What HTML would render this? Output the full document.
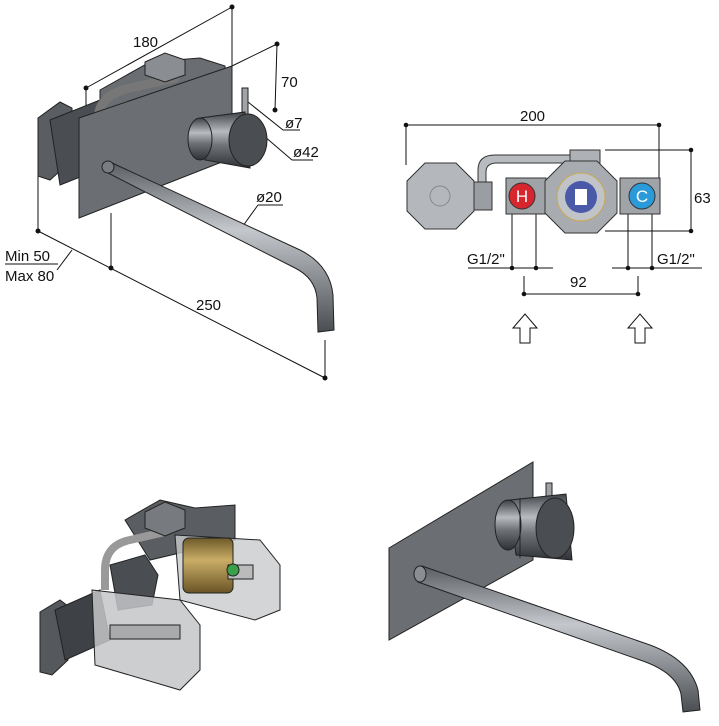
<!DOCTYPE html>
<html><head><meta charset="utf-8"><style>
html,body{margin:0;padding:0;background:#fff;}
svg{display:block;font-family:"Liberation Sans",Arial,sans-serif;}
</style></head><body>
<svg width="719" height="726" viewBox="0 0 719 726" xmlns="http://www.w3.org/2000/svg">
<defs>
<linearGradient id="cyl" x1="0" y1="0" x2="0" y2="1">
<stop offset="0" stop-color="#3e4246"/><stop offset="0.35" stop-color="#b8bcc0"/><stop offset="0.6" stop-color="#6e7276"/><stop offset="1" stop-color="#2e3236"/></linearGradient>
<linearGradient id="pipe" x1="0" y1="0" x2="0" y2="1">
<stop offset="0" stop-color="#5a5e62"/><stop offset="0.4" stop-color="#c4c8cc"/><stop offset="1" stop-color="#4a4e52"/></linearGradient>
<linearGradient id="brass" x1="0" y1="0" x2="0" y2="1">
<stop offset="0" stop-color="#6d5a2a"/><stop offset="0.4" stop-color="#c9ad66"/><stop offset="1" stop-color="#6a5426"/></linearGradient>
</defs>
<g stroke="#111" fill="none" stroke-width="1">
<!-- top-left dims -->
<line x1="86" y1="88" x2="232" y2="7"/><line x1="232" y1="7" x2="232" y2="66"/>
<line x1="86" y1="88" x2="86" y2="120"/>
<line x1="232" y1="66" x2="277" y2="44"/><line x1="277" y1="44" x2="275" y2="110"/>
<line x1="38" y1="176" x2="38" y2="230"/><line x1="38" y1="231" x2="325" y2="378"/>
<line x1="111" y1="213" x2="111" y2="268"/><line x1="325" y1="340" x2="325" y2="378"/>
<line x1="72" y1="250" x2="57" y2="270"/><line x1="5" y1="264" x2="58" y2="264"/>
<line x1="248" y1="102" x2="283" y2="130"/><line x1="283" y1="130" x2="300" y2="130"/>
<line x1="264" y1="136" x2="292" y2="160"/><line x1="292" y1="160" x2="313" y2="160"/>
<line x1="240" y1="230" x2="258" y2="205"/><line x1="258" y1="205" x2="283" y2="205"/>
</g>
<g fill="#111">
<circle cx="86" cy="88" r="2.5"/><circle cx="232" cy="7" r="2.5"/><circle cx="277" cy="44" r="2.5"/><circle cx="275" cy="110" r="2.5"/>
<circle cx="38" cy="231" r="2.5"/><circle cx="111" cy="268" r="2.5"/><circle cx="325" cy="378" r="2.5"/>
</g>
<!-- top-left faucet -->
<g stroke="#222" stroke-width="1">
<polygon points="38,118 60,102 72,108 72,160 50,180 38,176" fill="#5a5e62"/>
<polygon points="50,120 100,100 110,115 110,165 60,185" fill="#4a4e52"/>
<polygon points="100,90 150,62 200,58 225,66 225,110 100,140" fill="#6a6e72"/>
<path d="M98,120 Q98,95 130,88 L175,78" stroke="#777" stroke-width="9" fill="none" stroke-linecap="round"/>
<polygon points="145,62 165,53 185,60 185,75 165,82 145,75" fill="#8a8e92"/>
<polygon points="79,118 232,66 232,158 79,218" fill="#6b6f73"/>
<rect x="242" y="88" width="6" height="30" fill="#a0a4a8"/>
<path d="M200,118 L245,112 L250,168 L205,160 Z" fill="url(#cyl)"/>
<ellipse cx="200" cy="139" rx="12" ry="21" fill="url(#cyl)"/>
<ellipse cx="248" cy="140" rx="19" ry="26" fill="#4a4e52"/>
<path d="M110,162 L300,250 Q330,265 333,295 L334,330 L318,332 L317,298 Q315,278 295,268 L106,172 Z" fill="url(#pipe)"/>
<ellipse cx="108" cy="167" rx="6" ry="6" fill="#7a7e82"/>
</g>
<g font-size="15" fill="#111">
<text x="133" y="47">180</text><text x="281" y="87">70</text><text x="285" y="128">ø7</text>
<text x="293" y="157">ø42</text><text x="256" y="202">ø20</text>
<text x="5" y="261">Min 50</text><text x="5" y="281">Max 80</text><text x="196" y="310">250</text>
<text x="520" y="121">200</text><text x="694" y="203">63</text>
<text x="467" y="264">G1/2"</text><text x="657" y="264">G1/2"</text><text x="570" y="287">92</text>
</g>
<!-- right diagram -->
<g stroke="#111" fill="none" stroke-width="1">
<line x1="406" y1="125" x2="659" y2="125"/><line x1="406" y1="125" x2="406" y2="165"/><line x1="659" y1="125" x2="659" y2="178"/>
<line x1="605" y1="150" x2="691" y2="150"/><line x1="605" y1="231" x2="691" y2="231"/><line x1="691" y1="150" x2="691" y2="231"/>
<line x1="512" y1="214" x2="512" y2="268"/><line x1="536" y1="214" x2="536" y2="268"/><line x1="468" y1="268" x2="553" y2="268"/>
<line x1="628" y1="214" x2="628" y2="268"/><line x1="652" y1="214" x2="652" y2="268"/><line x1="612" y1="268" x2="702" y2="268"/>
<line x1="524" y1="276" x2="524" y2="294"/><line x1="638" y1="276" x2="638" y2="294"/><line x1="524" y1="294" x2="638" y2="294"/>
<path d="M520,343 L530,343 L530,328 L537,328 L525,314 L513,328 L520,328 Z"/>
<path d="M635,343 L645,343 L645,328 L652,328 L640,314 L628,328 L635,328 Z"/>
</g>
<g fill="#111">
<circle cx="406" cy="125" r="2.3"/><circle cx="659" cy="125" r="2.3"/><circle cx="691" cy="150" r="2.3"/><circle cx="691" cy="231" r="2.3"/>
<circle cx="512" cy="268" r="2.3"/><circle cx="536" cy="268" r="2.3"/><circle cx="628" cy="268" r="2.3"/><circle cx="652" cy="268" r="2.3"/>
<circle cx="524" cy="294" r="2.3"/><circle cx="638" cy="294" r="2.3"/>
</g>
<g stroke="#333" stroke-width="1">
<path d="M478,195 L478,170 Q478,155 495,155 L575,155 L575,163 L497,163 Q486,163 486,172 L486,195 Z" fill="#b8bcc0"/>
<rect x="570" y="150" width="30" height="15" fill="#aeb2b6"/>
<rect x="472" y="182" width="20" height="28" fill="#9a9ea2"/>
<polygon points="425,163 456,163 474,181 474,211 456,229 425,229 407,211 407,181" fill="#b4b8bc"/>
<circle cx="440" cy="196" r="10" fill="none" stroke="#888"/>
<rect x="506" y="178" width="40" height="36" fill="#a0a4a8"/>
<rect x="620" y="178" width="40" height="36" fill="#a0a4a8"/>
<polygon points="565,161 597,161 617,181 617,213 597,233 565,233 545,213 545,181" fill="#a8acb0"/>
<circle cx="581" cy="197" r="24" fill="#c0c4c8" stroke="#c9a850"/>
<circle cx="581" cy="197" r="16" fill="#4a5aa8" stroke="none"/>
<rect x="575" y="189" width="12" height="16" fill="#fff" stroke="none"/>
<circle cx="522" cy="196" r="13" fill="#d8262e"/>
<circle cx="642" cy="196" r="13" fill="#2a9ad8"/>
</g>
<text x="522" y="202" font-size="17" fill="#fff" text-anchor="middle">H</text>
<text x="642" y="202" font-size="17" fill="#fff" text-anchor="middle">C</text>
<!-- bottom-left mechanism -->
<g stroke="#222" stroke-width="1">
<polygon points="40,612 60,600 68,606 68,660 52,675 40,672" fill="#55595d"/>
<polygon points="125,520 160,500 195,508 235,505 235,540 150,560" fill="#5a5e62"/>
<path d="M105,590 L105,570 Q105,545 130,540 L165,532" stroke="#999" stroke-width="8" fill="none"/>
<polygon points="145,512 165,502 185,510 185,528 165,536 145,528" fill="#777b7f"/>
<polygon points="110,565 145,555 158,575 152,605 118,610" fill="#4a4e52"/>
<polygon points="175,535 260,540 280,565 280,610 255,620 180,600" fill="#c8cacc" fill-opacity="0.8"/>
<rect x="183" y="538" width="50" height="55" rx="6" fill="url(#brass)"/>
<rect x="228" y="565" width="25" height="14" fill="#bbb"/>
<circle cx="233" cy="570" r="6" fill="#3aa04a"/>
<polygon points="55,610 100,590 110,640 65,660" fill="#3e4246"/>
<polygon points="92,590 180,600 200,625 200,670 180,690 95,665" fill="#c4c6c8" fill-opacity="0.85"/>
<rect x="110" y="625" width="70" height="14" fill="#a8aaac"/>
</g>
<!-- bottom-right faucet -->
<g stroke="#222" stroke-width="1">
<polygon points="389,548 533,462 533,560 389,640" fill="#6b6f73"/>
<rect x="546" y="483" width="6" height="36" fill="#a0a4a8"/>
<path d="M510,500 L566,494 L572,560 L516,555 Z" fill="url(#cyl)"/>
<ellipse cx="508" cy="525" rx="13" ry="25" fill="url(#cyl)"/>
<ellipse cx="555" cy="528" rx="19" ry="30" fill="#4a4e52"/>
<line x1="520" y1="498" x2="520" y2="558"/>
<path d="M422,566 L650,645 Q690,660 698,690 L700,710 L683,712 L681,694 Q676,672 640,660 L418,582 Z" fill="url(#pipe)"/>
<ellipse cx="420" cy="574" rx="6" ry="8" fill="#8a8e92"/>
</g>
</svg>
</body></html>
